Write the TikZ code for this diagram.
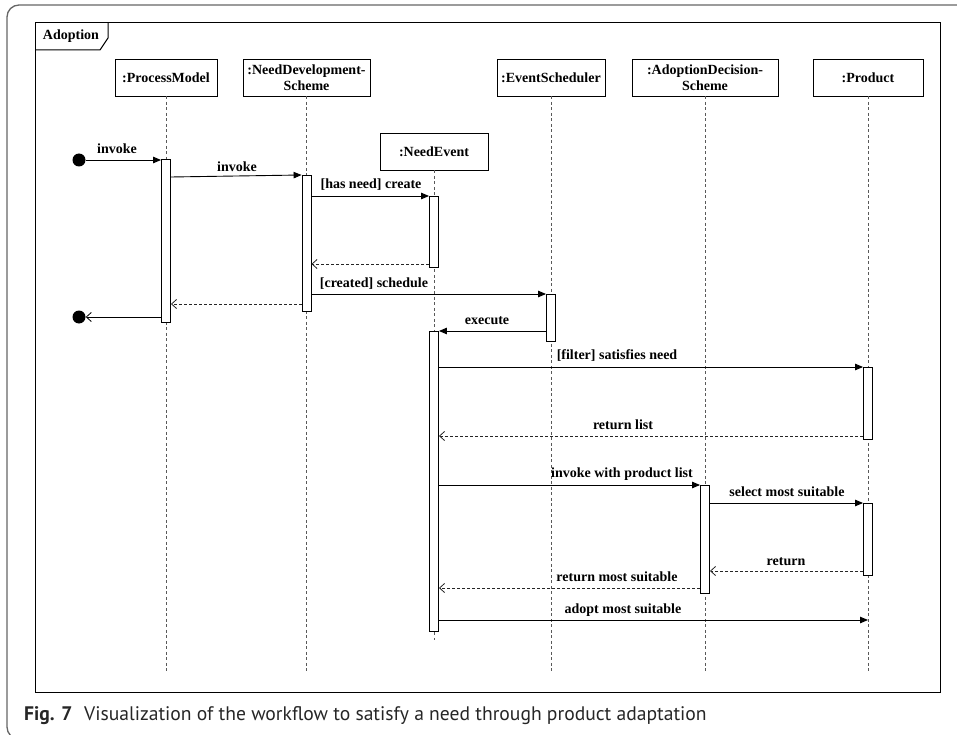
\documentclass[tikz,border=0pt]{standalone}
\usepackage{fontspec}
\setmainfont{Liberation Serif}
\newfontfamily\capfont{PT Sans}
\usetikzlibrary{arrows.meta}

\begin{document}
\begin{tikzpicture}[x=1pt,y=-1pt,
  every node/.style={font=\fontsize{14}{16}\selectfont\bfseries, inner sep=0pt},
  head/.style={draw=black, line width=0.9pt, fill=white, minimum height=37pt, align=center},
  act/.style={draw=black, line width=0.9pt, fill=white, minimum width=9pt},
  life/.style={draw=black!65, line width=0.8pt, dash pattern=on 3pt off 2.5pt},
  msg/.style={line width=0.9pt, -{Triangle[length=8pt,width=6.5pt]}},
  ret/.style={line width=0.8pt, draw=black!85, dash pattern=on 3pt off 2pt, -{Straight Barb[length=5pt,width=9pt,line width=0.8pt]}},
  back/.style={line width=0.9pt, -{Straight Barb[length=5pt,width=9pt,line width=0.8pt]}},
  dot/.style={circle, fill=black, minimum size=13pt},
  captext/.style={font=\capfont\fontsize{19.6}{22}\selectfont, anchor=base west, text=black!85}
]
\useasboundingbox (0,0) rectangle (957,735);

% outer figure frame and caption
\begin{scope}
\clip (0,0) rectangle (957,735);
\draw[draw=black!60, line width=1.3pt, rounded corners=12pt] (7,5) rectangle (980,739);
\end{scope}
\node[captext] (figno) at (24,720) {\bfseries Fig. 7};
\node[captext] (figtext) at (84,720) {Visualization of the workflow to satisfy a need through product adaptation};

% interaction frame
\draw[line width=1pt] (35,23) rectangle (940,692);
\draw[line width=1pt] (35,50) -- (100,50) -- (108,38) -- (108,23);
\node (frametitle) at (71,36) {Adoption};

% lifeline heads
\node[head, minimum width=102pt] (pmH)  at (166,77.5)   {:ProcessModel};
\node[head, minimum width=127pt] (ndsH) at (306.5,77.5) {:NeedDevelopment-\\Scheme};
\node[head, minimum width=108pt] (neH)  at (434,151.5)  {:NeedEvent};
\node[head, minimum width=108pt] (esH)  at (551,77.5)   {:EventScheduler};
\node[head, minimum width=146pt] (adH)  at (705,77.5)   {:AdoptionDecision-\\Scheme};
\node[head, minimum width=110pt] (prH)  at (868,77.5)   {:Product};

% lifelines
\draw[life] (pmH.south)  -- (pmH.south |- 0,673);
\draw[life] (ndsH.south) -- (ndsH.south |- 0,673);
\draw[life] (neH.south)  -- (neH.south |- 0,640);
\draw[life] (esH.south)  -- (esH.south |- 0,673);
\draw[life] (adH.south)  -- (adH.south |- 0,673);
\draw[life] (prH.south)  -- (prH.south |- 0,673);

% activation bars
\node[act, minimum height=163pt] (pmA)  at (166,240.5)   {};
\node[act, minimum height=136pt] (ndsA) at (306.5,243)   {};
\node[act, minimum height=71pt]  (neA1) at (434,231.5)   {};
\node[act, minimum height=47pt]  (esA)  at (551,317.5)   {};
\node[act, minimum height=300pt] (neA2) at (434,481)     {};
\node[act, minimum height=72pt]  (prA1) at (868,403)     {};
\node[act, minimum height=108pt] (adA)  at (705,539)     {};
\node[act, minimum height=72pt]  (prA2) at (868,539)     {};

% initial and final points
\node[dot] (startDot) at (79,160) {};
\node[dot] (endDot)   at (79,317) {};

% messages
\draw[msg] (startDot) -- (startDot -| pmA.west);
\node (m1) at (117,149) {invoke};

\draw[msg] (pmA.east |- 0,177) -- (ndsA.west |- 0,175);
\node (m2) at (237,167) {invoke};

\draw[msg] (ndsA.east |- 0,196) -- (neA1.west |- 0,196);
\node (m3) at (371,185) {[has need] create};

\draw[ret] (neA1.west |- 0,264) -- (ndsA.east |- 0,264);

\draw[msg] (ndsA.east |- 0,294) -- (esA.west |- 0,294);
\node (m4) at (374,284) {[created] schedule};

\draw[ret] (ndsA.west |- 0,304) -- (pmA.east |- 0,304);

\draw[back] (pmA.west |- 0,317) -- (endDot);

\draw[msg] (esA.west |- 0,331) -- (neA2.east |- 0,331);
\node (m5) at (487,321) {execute};

\draw[msg] (neA2.east |- 0,367) -- (prA1.west |- 0,367);
\node (m6) at (617,356) {[filter] satisfies need};

\draw[ret] (prA1.west |- 0,436) -- (neA2.east |- 0,436);
\node (m7) at (623,425) {return list};

\draw[msg] (neA2.east |- 0,485) -- (adA.west |- 0,485);
\node (m8) at (622,474) {invoke with product list};

\draw[msg] (adA.east |- 0,503) -- (prA2.west |- 0,503);
\node (m9) at (787,492) {select most suitable};

\draw[ret] (prA2.west |- 0,571) -- (adA.east |- 0,571);
\node (m10) at (786,562) {return};

\draw[ret] (adA.west |- 0,588) -- (neA2.east |- 0,588);
\node (m11) at (617,577) {return most suitable};

\draw[msg] (neA2.east |- 0,620) -- (prH.south |- 0,620);
\node (m12) at (623,610) {adopt most suitable};

\end{tikzpicture}
\end{document}
